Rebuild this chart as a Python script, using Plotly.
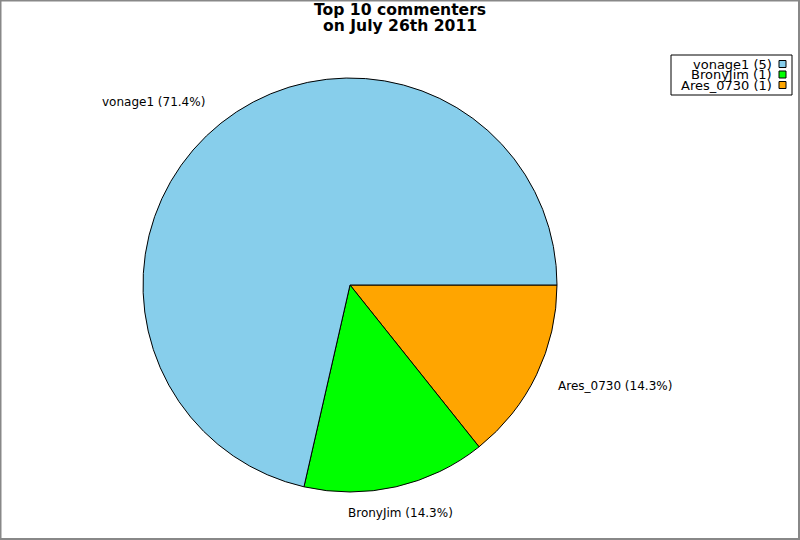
import math
import plotly.graph_objects as go

title_lines = ["Top 10 commenters", "on July 26th 2011"]
names = ["vonage1", "BronyJim", "Ares_0730"]
counts = [5, 1, 1]
colors = ["#87CEEB", "#00FF00", "#FFA500"]

W, H = 800, 540
dom_x = [143 / W, 557 / W]
dom_y = [1 - 492 / H, 1 - 78 / H]

# slices run counterclockwise from 3 o'clock; plotly's clockwise mode with reversed order gives the same layout
fig = go.Figure(go.Pie(
    labels=names[::-1], values=counts[::-1], sort=False,
    direction="clockwise", rotation=90,
    marker=dict(colors=colors[::-1], line=dict(color="black", width=1)),
    textinfo="none", hoverinfo="label+percent",
    domain=dict(x=dom_x, y=dom_y),
    showlegend=False,
))

# slice labels placed outside, derived from the data
total = sum(counts)
cx = (dom_x[0] + dom_x[1]) / 2 * W
cy = (1 - (dom_y[0] + dom_y[1]) / 2) * H
R = min((dom_x[1] - dom_x[0]) * W, (dom_y[1] - dom_y[0]) * H) / 2
annotations = []
start = 0.0
for n, c in zip(names, counts):
    frac = c / total
    mid = (start + frac / 2) * 2 * math.pi
    start += frac
    cosv, sinv = math.cos(mid), math.sin(mid)
    px = cx + R * 1.106 * cosv
    py = cy - R * 1.13 * sinv
    xa = "left" if cosv > 0.3 else ("right" if cosv < -0.3 else "center")
    annotations.append(dict(
        x=px / W, y=1 - py / H, xref="paper", yref="paper",
        text=f"{n} ({frac*100:.1f}%)", showarrow=False,
        xanchor=xa, yanchor="middle",
        font=dict(family="DejaVu Sans", size=12, color="black"),
    ))

# custom legend (markers on the right side)
shapes = []
leg_x0, leg_x1, leg_y0, leg_y1 = 671, 792, 55, 95
row0, row_h = 64, 10.5
shapes.append(dict(type="rect", xref="paper", yref="paper",
                   x0=leg_x0 / W, x1=leg_x1 / W,
                   y0=1 - leg_y0 / H, y1=1 - leg_y1 / H,
                   line=dict(color="black", width=1), fillcolor="white", layer="above"))
for i, (n, c, col) in enumerate(zip(names, counts, colors)):
    yc = row0 + i * row_h
    shapes.append(dict(type="rect", xref="paper", yref="paper",
                       x0=779 / W, x1=786 / W,
                       y0=1 - (yc - 3.5) / H, y1=1 - (yc + 3.5) / H,
                       line=dict(color="black", width=1), fillcolor=col, layer="above"))
    annotations.append(dict(
        x=774 / W, y=1 - (yc + 0.5) / H, xref="paper", yref="paper",
        text=f"{n} ({c})", showarrow=False, xanchor="right", yanchor="middle",
        font=dict(family="DejaVu Sans", size=13, color="black"),
    ))

# outer border
shapes.append(dict(type="rect", xref="paper", yref="paper",
                   x0=0.5 / W, x1=1 - 1 / W, y0=1 / H, y1=1 - 0.5 / H,
                   line=dict(color="#888888", width=2)))

for i, line in enumerate(title_lines):
    annotations.append(dict(
        x=0.5, y=1 - (10 + 15.5 * i) / H, xref="paper", yref="paper",
        xanchor="center", yanchor="middle",
        text="<b>" + line + "</b>", showarrow=False,
        font=dict(family="DejaVu Sans", size=15.6, color="black"),
    ))

fig.update_layout(
    width=W, height=H, margin=dict(l=0, r=0, t=0, b=0),
    paper_bgcolor="white", plot_bgcolor="white",
    annotations=annotations, shapes=shapes,
)
fig.write_html("out.html", config={"displayModeBar": False},
               post_script="document.body.style.margin='0';document.body.style.overflow='hidden';")
